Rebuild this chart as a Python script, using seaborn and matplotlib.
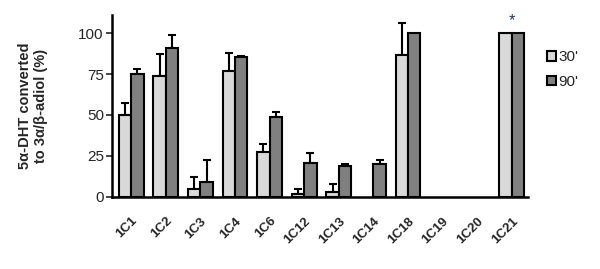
import matplotlib
matplotlib.use("Agg")
import matplotlib.pyplot as plt
import pandas as pd
import seaborn as sns

categories = ["1C1", "1C2", "1C3", "1C4", "1C6", "1C12", "1C13", "1C14", "1C18", "1C19", "1C20", "1C21"]
series_names = ["30'", "90'"]
values_30 = [50, 74, 4.7, 77, 27.6, 2, 3.2, 0, 86.6, 0, 0, 100]
errors_30 = [7.5, 13, 7.7, 10.6, 4.5, 3, 4.5, 0, 19.5, 0, 0, 0]
values_90 = [75, 91, 9.3, 85.5, 49, 21, 19, 20, 100, 0, 0, 100]
errors_90 = [3, 8, 13, 0.8, 3, 5.5, 0.8, 2.5, 0, 0, 0, 0]
colors = ["#d9d9d9", "#808080"]

df = pd.DataFrame({
    "Sample": categories * 2,
    "Time": [series_names[0]] * len(categories) + [series_names[1]] * len(categories),
    "Value": values_30 + values_90,
})

sns.set_style("white")
plt.rcParams["font.family"] = ["Liberation Sans", "DejaVu Sans"]

fig = plt.figure(figsize=(6, 2.69), dpi=100)
ax = fig.add_axes([0.187, 0.268, 0.693, 0.676])

sns.barplot(data=df, x="Sample", y="Value", hue="Time", palette=colors,
            errorbar=None, width=0.72, edgecolor="black", linewidth=1.5,
            saturation=1, ax=ax, zorder=2)

# upward-only error bars on top of each bar; hide zero-height bars
errs = errors_30 + errors_90
vals = values_30 + values_90
for patch, v, e in zip(ax.patches[:len(vals)], vals, errs):
    if v == 0:
        patch.set_visible(False)
    if e > 0:
        xc = patch.get_x() + patch.get_width() / 2
        ax.errorbar(xc, v, yerr=[[0], [e]], fmt="none", ecolor="black",
                    elinewidth=1.5, capsize=3, capthick=1.5, zorder=1)

ax.text(11, 103, "*", ha="center", va="bottom", fontsize=12, color="#1f3864")

ax.set_ylim(0, 111)
ax.set_xlim(-0.55, 11.47)
ax.set_yticks([0, 25, 50, 75, 100])
ax.tick_params(axis="y", direction="out", length=4, width=1.2, labelsize=11, pad=2, left=True)
ax.tick_params(axis="x", length=0, pad=13)
plt.setp(ax.get_xticklabels(), rotation=45, ha="right", rotation_mode="anchor",
         fontsize=9.5, fontweight="bold")

for side in ["top", "right"]:
    ax.spines[side].set_visible(False)
for side in ["left", "bottom"]:
    ax.spines[side].set_linewidth(1.8)
    ax.spines[side].set_color("black")

ax.set_xlabel("")
ax.set_ylabel("5α-DHT converted\nto 3α/β-adiol (%)", fontsize=10.5, fontweight="bold", labelpad=22)

leg = ax.legend(loc="upper left", bbox_to_anchor=(1.03, 0.84), frameon=False,
                fontsize=11, handlelength=0.6, handleheight=0.6, handletextpad=0.15,
                labelspacing=0.7, borderaxespad=0)

plt.savefig("out.png", dpi=100)
